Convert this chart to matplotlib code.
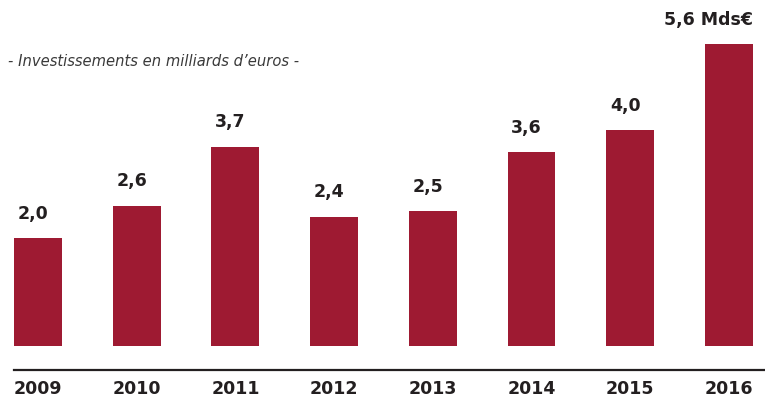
import matplotlib
matplotlib.use("Agg")
import matplotlib.pyplot as plt

years = ["2009", "2010", "2011", "2012", "2013", "2014", "2015", "2016"]
values = [2.0, 2.6, 3.7, 2.4, 2.5, 3.6, 4.0, 5.6]
labels = ["2,0", "2,6", "3,7", "2,4", "2,5", "3,6", "4,0", "5,6 Mds€"]
subtitle = "- Investissements en milliards d\u2019euros -"

bar_color = "#9e1a32"
text_color = "#231f20"

fig = plt.figure(figsize=(7.65, 4.05), dpi=100)
ax = fig.add_axes([14 / 765, 35 / 405, 1 - 14 / 765, 370 / 405])

x = list(range(len(years)))
width = 0.485
ax.bar(x, values, width=width, color=bar_color, zorder=2)

ax.set_xlim(-width / 2, 7.365)
ax.set_ylim(-0.445, 6.42)

for i, (v, lab) in enumerate(zip(values, labels)):
    if i == len(values) - 1:
        ax.annotate(lab, xy=(i + width / 2, v), xytext=(0, 14), textcoords="offset points",
                    ha="right", va="baseline", fontsize=12.5, fontweight="bold", color=text_color)
    else:
        ax.annotate(lab, xy=(i, v), xytext=(-3.5, 14), textcoords="offset points",
                    ha="center", va="baseline", fontsize=12.5, fontweight="bold", color=text_color)

for s in ["top", "right", "left"]:
    ax.spines[s].set_visible(False)
ax.spines["bottom"].set_linewidth(1.6)
ax.spines["bottom"].set_color(text_color)
ax.set_yticks([])
ax.set_xticks(x)
ax.set_xticklabels(years, fontsize=12.5, fontweight="bold", color=text_color)
ax.tick_params(axis="x", length=0, pad=7)

fig.text(8 / 765, 1 - 62 / 405, subtitle, fontsize=10.6, style="italic", color="#3a3a3a",
         ha="left", va="center")

fig.savefig("out.png", dpi=100)
